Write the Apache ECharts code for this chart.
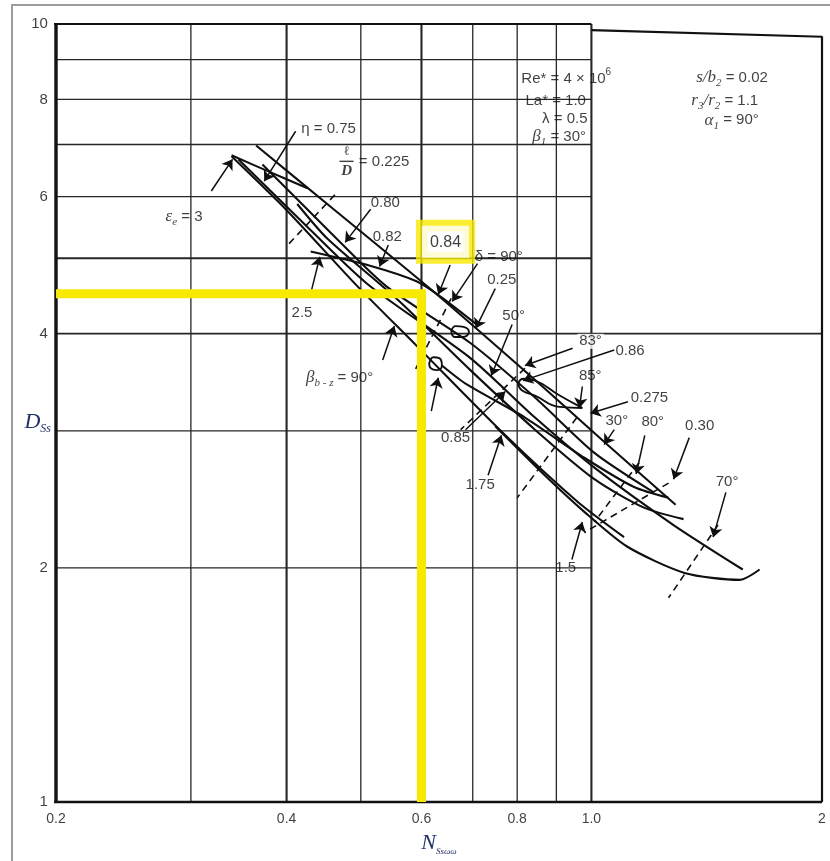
<!DOCTYPE html>
<html>
<head>
<meta charset="utf-8">
<script src="https://cdn.jsdelivr.net/npm/echarts@6/dist/echarts.min.js"></script>
<style>
html,body{margin:0;padding:0;background:#fff}
#chart{width:830px;height:861px}
</style>
</head>
<body>
<div id="chart"></div>
<script>
// ---- axis ticks and grid ----
const xTickValues = [0.2, 0.4, 0.6, 0.8, 1.0, 2];
const xTickLabels = ['0.2', '0.4', '0.6', '0.8', '1.0', '2'];
const yTickValues = [1, 2, 4, 6, 8, 10];
const yTickLabels = ['1', '2', '4', '6', '8', '10'];
const gridX = [0.3, 0.4, 0.5, 0.6, 0.7, 0.8, 0.9, 1.0];
const gridY = [2, 3, 4, 5, 6, 7, 8, 9];

// ---- performance curves (N, D) ----
const lineUpper   = [[0.365,6.98],[0.452,5.87],[0.622,4.53],[0.869,3.40],[1.045,2.89],[1.288,2.41]];
const lineSecond  = [[0.372,6.60],[0.456,5.40],[0.540,4.60],[0.695,3.89],[0.844,3.31],[1.009,2.81],[1.206,2.50]];
const lineLower   = [[0.339,6.76],[0.401,5.75],[0.494,4.61],[0.591,3.86],[0.772,2.96],[0.960,2.43],[1.103,2.19]];
const lineLong    = [[0.346,6.70],[0.413,5.65],[0.509,4.64],[0.695,3.72],[0.844,3.12],[1.009,2.69],[1.280,2.27],[1.576,1.99]];
const edgeShort   = [[0.339,6.78],[0.378,6.47],[0.426,6.15]];
const curveMid    = [[0.413,5.87],[0.452,5.30],[0.556,4.44],[0.695,3.59],[0.844,3.01],[1.009,2.60],[1.171,2.39],[1.319,2.31]];
const curveBottom = [[0.749,3.04],[0.869,2.63],[0.979,2.36],[1.113,2.13],[1.323,1.97],[1.562,1.93],[1.658,1.99]];
const curveShallow= [[0.430,5.10],[0.514,4.89],[0.591,4.67],[0.636,4.46],[0.706,4.12]];
const curveInner  = [[0.638,3.64],[0.685,3.45],[0.819,3.12],[0.979,2.77],[1.137,2.54],[1.261,2.46]];
const loopTip     = [[0.614,3.66],[0.622,3.73],[0.633,3.72],[0.638,3.64],[0.628,3.59],[0.617,3.61],[0.614,3.66]];
const loopSmall   = [[0.656,4.03],[0.665,4.09],[0.681,4.08],[0.692,4.02],[0.679,3.96],[0.663,3.96],[0.656,4.03]];
const loop086     = [[0.802,3.45],[0.815,3.50],[0.844,3.48],[0.909,3.33],[0.973,3.21],[0.909,3.22],[0.844,3.33],[0.812,3.38],[0.802,3.45]];

// ---- constant l/D and angle traces (dashed) ----
const dashA = [[0.403,5.22],[0.463,6.04]];
const dashB = [[0.656,4.44],[0.586,3.56]];
const dashC = [[0.819,3.61],[0.675,3.01]];
const dashD = [[0.957,3.12],[0.800,2.46]];
const dashE = [[1.261,2.57],[0.979,2.22]];
const dashF = [[1.154,2.73],[1.009,2.29]];
const dashG = [[1.463,2.27],[1.261,1.83]];

// ---- leader arrows: [from, to] ----
const arrows = [
  [[0.319,6.10],[0.340,6.70]],
  [[0.411,7.28],[0.374,6.28]],
  [[0.515,5.78],[0.477,5.24]],
  [[0.543,5.20],[0.529,4.88]],
  [[0.429,4.46],[0.442,5.02]],
  [[0.654,4.90],[0.631,4.49]],
  [[0.710,4.92],[0.658,4.40]],
  [[0.749,4.57],[0.706,4.06]],
  [[0.788,4.11],[0.740,3.53]],
  [[0.945,3.83],[0.819,3.64]],
  [[1.071,3.81],[0.814,3.48]],
  [[0.973,3.42],[0.965,3.21]],
  [[1.116,3.27],[0.997,3.16]],
  [[1.071,3.01],[1.039,2.88]],
  [[1.174,2.96],[1.144,2.64]],
  [[1.342,2.94],[1.280,2.60]],
  [[1.498,2.50],[1.442,2.19]],
  [[0.685,3.01],[0.772,3.37]],
  [[0.733,2.63],[0.763,2.96]],
  [[0.943,2.05],[0.973,2.29]],
  [[0.534,3.70],[0.553,4.09]],
  [[0.618,3.18],[0.631,3.51]]
];

// ---- reading line: N = 0.6 gives D = 4.5 ----
const readPath = [[0.2,4.5],[0.6,4.5],[0.6,1]];

// ---- annotations: [N, D, text] ----
const notes = [
  [0.418,7.34,'η = 0.75'],
  [0.497,6.64,'= 0.225'],
  [0.278,5.65,'{ge|ε}{sb|e} = 3'],
  [0.515,5.89,'0.80'],
  [0.518,5.32,'0.82'],
  [0.704,5.02,'δ = 90°'],
  [0.731,4.69,'0.25'],
  [0.765,4.21,'50°'],
  [0.958,3.91,'{w|83°}'],
  [1.075,3.80,'0.86'],
  [0.963,3.53,'85°'],
  [1.125,3.31,'0.275'],
  [1.043,3.09,'30°'],
  [1.162,3.08,'80°'],
  [1.325,3.04,'0.30'],
  [1.453,2.58,'70°'],
  [0.636,2.94,'0.85'],
  [0.685,2.56,'1.75'],
  [0.897,2.00,'1.5'],
  [0.406,4.25,'2.5'],
  [0.424,3.51,'{ge|β}{sb|b - z} = 90°'],
  [0.810,8.51,'Re* = 4 × 10{sp|6}'],
  [0.820,7.97,'La* = 1.0'],
  [0.862,7.56,'λ = 0.5'],
  [0.837,7.17,'{ge|β}{sb|1} = 30°'],
  [1.370,8.53,'{ge|s/b}{sb|2} = 0.02'],
  [1.350,7.97,'{ge|r}{sb|3}{ge|/r}{sb|2} = 1.1'],
  [1.405,7.52,'{ge|α}{sb|1} = 90°']
];
const centerNotes = [
  [0.645,5.25,'{box|0.84}'],
  [0.479,6.66,'{n|ℓ}\n{bar|}\n{d|D}']
];

const xMin = 0.2, xMax = 2, xPanel = 1.0, yMin = 1, yMax = 10, tickOut = 0.195;
const ink = '#0f0f0f';
const gridInk = '#262626';
const heavyX = [0.4, 0.6, 1.0];
const heavyY = [4, 5];

function path(data, lineStyle, extra) {
  return Object.assign({
    type: 'line', data: data, symbol: 'none', silent: true, clip: false,
    lineStyle: Object.assign({ color: ink, width: 1.8 }, lineStyle || {})
  }, extra || {});
}

const series = [];

// grid
gridX.forEach(v => series.push(path([[v, yMin], [v, yMax]],
  { color: gridInk, width: heavyX.includes(v) ? 2.1 : 1.3 }, { z: 1 })));
gridY.forEach(v => series.push(path([[tickOut, v], [v === 4 ? xMax : xPanel, v]],
  { color: gridInk, width: heavyY.includes(v) ? 1.9 : 1.3 }, { z: 1 })));

// frame
series.push(path([[xMin, yMin], [xMin, yMax]], { color: '#111', width: 3.4 }, { z: 2 }));
series.push(path([[tickOut, yMax], [xPanel, yMax]], { color: '#111', width: 2.2 }, { z: 2 }));
series.push(path([[xPanel, 9.82], [xMax, 9.63], [xMax, yMin]], { color: '#111', width: 2.2 }, { z: 2 }));
series.push(path([[tickOut, yMin], [xMax, yMin]], { color: '#111', width: 2.6 }, { z: 2 }));

// curves
[lineUpper, lineSecond, lineLower, lineLong, edgeShort, curveMid, curveBottom, curveShallow, curveInner]
  .forEach(d => series.push(path(d, { width: 2.1 }, { smooth: 0.25, z: 3 })));
[loopTip, loopSmall, loop086].forEach(d => series.push(path(d, { width: 1.9 }, { smooth: 0.5, z: 3 })));
[dashA, dashB, dashC, dashD, dashE, dashF, dashG]
  .forEach(d => series.push(path(d, { width: 1.6, type: [7, 5] }, { z: 3 })));

// leader arrows
series.push({
  type: 'lines', coordinateSystem: 'cartesian2d', silent: true, z: 4,
  data: arrows.map(a => ({ coords: a })),
  symbol: ['none', 'arrow'], symbolSize: 10,
  lineStyle: { color: ink, width: 1.5, opacity: 1, curveness: 0 }
});

// reading line
series.push(path(readPath, { color: '#f7ea00', width: 9, join: 'miter', cap: 'butt' }, { z: 6 }));

const rich = {
  ge: { fontFamily: 'Liberation Serif', fontStyle: 'italic', fontSize: 17, lineHeight: 22, color: ink },
  sb: { fontFamily: 'Liberation Serif', fontStyle: 'italic', fontSize: 11, lineHeight: 22, verticalAlign: 'bottom', color: ink },
  sp: { fontSize: 10, lineHeight: 22, verticalAlign: 'top', color: ink },
  w:  { fontSize: 15, lineHeight: 22, backgroundColor: '#fff', padding: [0, 2], color: ink },
  box:{ fontSize: 16, color: ink, padding: [9, 8, 7, 8], borderColor: '#f7ea00', borderWidth: 6, backgroundColor: '#fff' },
  n:  { fontFamily: 'DejaVu Serif', fontSize: 13, lineHeight: 16, align: 'center', color: ink },
  bar:{ width: 14, height: 1.4, lineHeight: 4, backgroundColor: ink, align: 'center' },
  d:  { fontFamily: 'Liberation Serif', fontStyle: 'italic', fontWeight: 'bold', fontSize: 15, lineHeight: 16, align: 'center', color: ink }
};

function labelSeries(data, position, distance, fontSize, z) {
  return {
    type: 'scatter', data: data, symbolSize: 0.1, clip: false, silent: true, z: z || 8,
    itemStyle: { color: 'rgba(0,0,0,0)' },
    label: {
      show: true, position: position, distance: distance,
      formatter: p => p.data[2],
      color: ink, fontSize: fontSize, lineHeight: 22,
      fontFamily: 'Liberation Sans', rich: rich
    }
  };
}

series.push(labelSeries(notes, 'right', 0, 15, 8));
series.push(labelSeries(centerNotes, 'inside', 0, 16, 9));
series.push(labelSeries(xTickValues.map((v, i) => [v, yMin, xTickLabels[i]]), 'bottom', 6, 14));
series.push(labelSeries(yTickValues.map((v, i) => [xMin, v, yTickLabels[i]]), 'left', 8, 15));

const chart = echarts.init(document.getElementById('chart'), null, { renderer: 'canvas' });
chart.setOption({
  animation: false,
  backgroundColor: '#fff',
  grid: { left: 56, top: 24, width: 766, height: 782 },
  graphic: [{
    type: 'rect', silent: true, z: -10,
    shape: { x: 12, y: 5, width: 860, height: 900 },
    style: { fill: 'none', stroke: '#9c9c9c', lineWidth: 2 }
  }],
  xAxis: {
    type: 'log', logBase: 10, min: xMin, max: xMax,
    axisLine: { show: false }, axisTick: { show: false }, axisLabel: { show: false },
    splitLine: { show: false }, minorTick: { show: false },
    name: '{n|N}{s|Ssωω}', nameLocation: 'middle', nameGap: 28,
    nameTextStyle: { rich: {
      n: { fontFamily: 'Liberation Serif', fontStyle: 'italic', fontSize: 22, lineHeight: 26, color: '#22306a' },
      s: { fontFamily: 'Liberation Serif', fontStyle: 'italic', fontSize: 9, lineHeight: 26, verticalAlign: 'bottom', color: '#22306a' }
    } }
  },
  yAxis: {
    type: 'log', logBase: 10, min: yMin, max: yMax,
    axisLine: { show: false }, axisTick: { show: false }, axisLabel: { show: false },
    splitLine: { show: false }, minorTick: { show: false },
    name: '{d|D}{s|Ss}', nameLocation: 'middle', nameGap: 5, nameRotate: 0,
    nameTextStyle: { padding: [18, 0, 0, 0], rich: {
      d: { fontFamily: 'Liberation Serif', fontStyle: 'italic', fontSize: 22, lineHeight: 26, color: '#22306a' },
      s: { fontFamily: 'Liberation Serif', fontStyle: 'italic', fontSize: 12, lineHeight: 26, verticalAlign: 'bottom', color: '#22306a' }
    } }
  },
  series: series
});
</script>
</body>
</html>
